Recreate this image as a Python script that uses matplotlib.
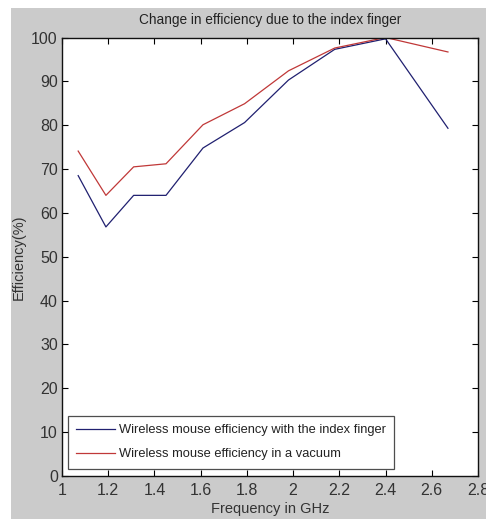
import matplotlib
matplotlib.use("Agg")
import matplotlib.pyplot as plt
from matplotlib.patches import Rectangle

# Frequency points (GHz) and efficiencies (%)
freq = [1.07, 1.19, 1.31, 1.45, 1.61, 1.79, 1.98, 2.18, 2.40, 2.67]
eff_finger = [68.5, 56.8, 64.0, 64.0, 74.8, 80.6, 90.3, 97.3, 99.7, 79.3]
eff_vacuum = [74.1, 64.0, 70.5, 71.2, 80.1, 84.9, 92.4, 97.6, 100.0, 96.7]

x_ticks = [1, 1.2, 1.4, 1.6, 1.8, 2, 2.2, 2.4, 2.6, 2.8]
x_tick_labels = ["1", "1.2", "1.4", "1.6", "1.8", "2", "2.2", "2.4", "2.6", "2.8"]
y_ticks = list(range(0, 101, 10))

plt.rcParams["font.family"] = ["Liberation Sans", "DejaVu Sans"]

fig = plt.figure(figsize=(4.86, 5.19), dpi=100, facecolor="white")
# grey MATLAB-like panel (leaves a thin white border top/left)
fig.patches.append(Rectangle((11 / 486, 0), 1, 1 - 8 / 519, transform=fig.transFigure,
                             facecolor="#cbcbcb", edgecolor="none", zorder=-10))

ax = fig.add_axes([62 / 486, 1 - 476 / 519, (478 - 62) / 486, (476 - 37.5) / 519])
ax.set_facecolor("white")

ax.plot(freq, eff_finger, color="#202070", linewidth=0.9,
        label="Wireless mouse efficiency with the index finger")
ax.plot(freq, eff_vacuum, color="#c03838", linewidth=0.9,
        label="Wireless mouse efficiency in a vacuum")

ax.set_xlim(1, 2.8)
ax.set_ylim(0, 100)
ax.set_xticks(x_ticks)
ax.set_xticklabels(x_tick_labels)
ax.set_yticks(y_ticks)
ax.tick_params(direction="in", top=True, right=True, length=4, width=0.8,
               labelsize=11.5, labelcolor="#333333", pad=3)
ax.tick_params(axis="x", pad=5)
for s in ax.spines.values():
    s.set_linewidth(1.0)
    s.set_color("#111111")

ax.set_title("Change in efficiency due to the index finger", fontsize=9.8,
             color="#222222", pad=10)
ax.set_xlabel("Frequency in GHz", fontsize=10.5, color="#333333", labelpad=3)
ax.set_ylabel("Efficiency(%)", fontsize=10.5, color="#333333", labelpad=4)

leg = ax.legend(loc="lower left", bbox_to_anchor=(0.014, 0.017), fontsize=9.3,
                frameon=True, fancybox=False, borderpad=0.65, handlelength=3.0,
                handletextpad=0.3, labelspacing=0.9, borderaxespad=0)
leg.get_frame().set_edgecolor("#222222")
leg.get_frame().set_linewidth(0.9)
for t in leg.get_texts():
    t.set_color("#222222")

fig.savefig("out.png", dpi=100, facecolor=fig.get_facecolor())
